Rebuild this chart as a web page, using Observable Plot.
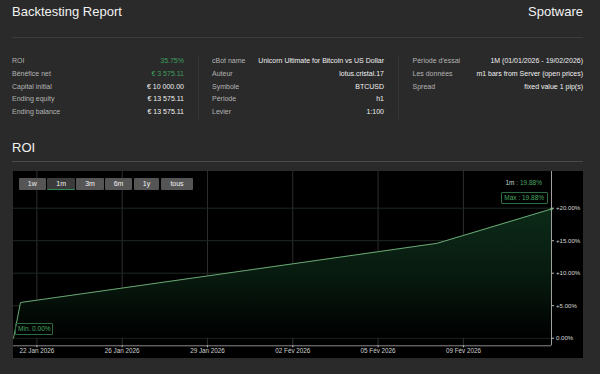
<!DOCTYPE html>
<html>
<head>
<meta charset="utf-8">
<script src="https://cdn.jsdelivr.net/npm/d3@7"></script>
<script src="https://cdn.jsdelivr.net/npm/@observablehq/plot@0.6"></script>
<style>
  html, body { margin:0; padding:0; background:#2a2a2a; width:600px; height:374px; overflow:hidden; }
  body { position:relative; font-family:"Liberation Sans", Arial, sans-serif; color:#eee; }
  .abs { position:absolute; white-space:nowrap; }
  .title { font-size:13px; color:#f2f2f2; }
  .hr { position:absolute; height:1px; }
  .row { position:absolute; font-size:7px; height:12.75px; line-height:12.75px; }
  .lab { color:#b4b4b4; }
  .val { color:#f0f0f0; text-align:right; }
  .green { color:#3f9d5f; }
  .vdiv { position:absolute; width:1px; background:#363636; }
  #panel { position:absolute; left:13px; top:171px; width:570px; height:187px; background:#000; }
  .btn { position:absolute; top:178px; height:12px; line-height:12px; font-size:7px; text-align:center; color:#f0f0f0; background:#555; border-radius:1px; }
  .btn.active { background:#3b3b3b; border-bottom:1px solid #2f8a55; height:11px; }
  .ann { position:absolute; font-size:6.5px; color:#48a862; white-space:nowrap; }
  .box { border:1px solid #2e6b40; border-radius:1px; text-align:center; box-sizing:border-box; }
</style>
</head>
<body>
<div id="root"></div>
<script>
// ---- data ----
const reportTitle = "Backtesting Report";
const brand = "Spotware";
const statLabels1 = ["ROI", "Bénéfice net", "Capital initial", "Ending equity", "Ending balance"];
const statValues1 = ["35.75%", "€ 3 575.11", "€ 10 000.00", "€ 13 575.11", "€ 13 575.11"];
const statGreen1 = [true, true, false, false, false];
const statLabels2 = ["cBot name", "Auteur", "Symbole", "Période", "Levier"];
const statValues2 = ["Unicorn Ultimate for Bitcoin vs US Dollar", "lotus.cristal.17", "BTCUSD", "h1", "1:100"];
const statLabels3 = ["Période d'essai", "Les données", "Spread"];
const statValues3 = ["1M (01/01/2026 - 19/02/2026)", "m1 bars from Server (open prices)", "fixed value 1 pip(s)"];
const sectionTitle = "ROI";
const rangeButtons = ["1w", "1m", "3m", "6m", "1y", "tous"];
const activeButton = "1m";

// x positions are in "tick spacing" units of the ordinal time axis
const xTickPos = [1, 2, 3, 4, 5, 6];
const xTickLabels = ["22 Jan 2026", "26 Jan 2026", "29 Jan 2026", "02 Fév 2026", "05 Fév 2026", "09 Fév 2026"];
const xDomain = [0.726, 7.033];
const yTicks = [0, 5, 10, 15, 20];
const yDomain = [-1.17, 25.65];
const roiX = [0.726, 0.808, 5.693, 7.033];
const roiY = [0, 5.49, 14.6, 19.88];

// ---- page layout ----
const root = document.getElementById("root");
function el(cls, text, style) {
  const d = document.createElement("div");
  d.className = cls;
  if (text != null) d.textContent = text;
  Object.assign(d.style, style || {});
  root.appendChild(d);
  return d;
}
el("abs title", reportTitle, {left:"12px", top:"4px"});
el("abs title", brand, {right:"17px", top:"4px"});
el("hr", null, {left:"12px", top:"37px", width:"571px", background:"#3c3c3c"});

const rowTop = 55, rowH = 12.75;
statLabels1.forEach((t, i) => {
  el("row lab", t, {left:"12px", top:(rowTop + i*rowH)+"px"});
  el("row val" + (statGreen1[i] ? " green" : ""), statValues1[i], {left:"100px", width:"84px", top:(rowTop + i*rowH)+"px"});
});
statLabels2.forEach((t, i) => {
  el("row lab", t, {left:"212px", top:(rowTop + i*rowH)+"px"});
  el("row val", statValues2[i], {left:"250px", width:"134px", top:(rowTop + i*rowH)+"px"});
});
statLabels3.forEach((t, i) => {
  el("row lab", t, {left:"412.5px", top:(rowTop + i*rowH)+"px"});
  el("row val", statValues3[i], {left:"450px", width:"133px", top:(rowTop + i*rowH)+"px"});
});
el("vdiv", null, {left:"198px", top:"55px", height:"64px"});
el("vdiv", null, {left:"398px", top:"55px", height:"64px"});

el("abs title", sectionTitle, {left:"12px", top:"140px"});
el("hr", null, {left:"12px", top:"161px", width:"571px", background:"#4a4a4a"});

const panel = el("", null, {});
panel.id = "panel";

// ---- chart ----
const data = roiX.map((x, i) => ({x, y: roiY[i]}));
const fmtPct = d => (d > 0 ? "+" : "") + d.toFixed(2) + "%";

const chart = Plot.plot({
  width: 570,
  height: 187,
  marginLeft: 0,
  marginRight: 32,
  marginTop: 0,
  marginBottom: 12.7,
  style: {background: "transparent", color: "#d0d0d0", fontFamily: "'Liberation Sans', Arial, sans-serif"},
  x: {domain: xDomain, axis: null},
  y: {domain: yDomain, axis: null},
  marks: [
    Plot.ruleX(xTickPos, {stroke: "#2e2e2e", strokeWidth: 1}),
    Plot.ruleY(yTicks, {stroke: "#1f2a22", strokeWidth: 1}),
    Plot.areaY(data, {x: "x", y: "y", fill: "url(#roiGrad)"}),
    Plot.lineY(data, {x: "x", y: "y", stroke: "#6aa874", strokeWidth: 1}),
    Plot.dot([data[data.length - 1]], {x: "x", y: "y", r: 1.3, fill: "#5cbf72", stroke: "none"}),
    Plot.ruleY([yDomain[0]], {stroke: "#8a8a8a", strokeWidth: 1}),
    Plot.ruleX([xDomain[1]], {stroke: "#a0a0a0", strokeWidth: 1}),
    Plot.axisX({anchor: "bottom", ticks: xTickPos, tickFormat: d => xTickLabels[xTickPos.indexOf(d)],
                tickSize: 2, tickPadding: 1.2, fontSize: 6.3, label: null, stroke: "#bbb", fill: "#d0d0d0"}),
    Plot.axisY({anchor: "right", ticks: yTicks, tickFormat: fmtPct,
                tickSize: 2, tickPadding: 2.5, fontSize: 6.1, label: null, stroke: "#bbb", fill: "#d8d8d8"})
  ]
});
const svg = d3.select(chart.tagName.toLowerCase() === "svg" ? chart : chart.querySelector("svg"));
const defs = svg.insert("defs", ":first-child");
const grad = defs.append("linearGradient").attr("id", "roiGrad").attr("x1", 0).attr("y1", 0).attr("x2", 0).attr("y2", 1);
grad.append("stop").attr("offset", "0%").attr("stop-color", "#0c2a18");
grad.append("stop").attr("offset", "55%").attr("stop-color", "#07190e");
grad.append("stop").attr("offset", "100%").attr("stop-color", "#000");
panel.appendChild(chart);

// ---- range buttons ----
const btnLeft = [19, 47, 76, 105, 134, 161];
const btnW = [26.7, 28.3, 28, 27, 25, 32];
rangeButtons.forEach((b, i) => {
  el("btn" + (b === activeButton ? " active" : ""), b, {left: btnLeft[i] + "px", width: btnW[i] + "px"});
});

// ---- annotations ----
const last = roiY[roiY.length - 1];
const a1 = el("ann", null, {right: "58px", top: "179px"});
a1.innerHTML = '<span style="color:#c8d8cc">' + activeButton + '</span> : ' + last.toFixed(2) + '%';
el("ann box", "Max : " + last.toFixed(2) + "%", {left: "500.7px", top: "192px", width: "47px", height: "12px", lineHeight: "10px"});
el("ann box", "Min. " + roiY[0].toFixed(2) + "%", {left: "15.3px", top: "323.3px", width: "38px", height: "11.7px", lineHeight: "9.7px"});
</script>
</body>
</html>
